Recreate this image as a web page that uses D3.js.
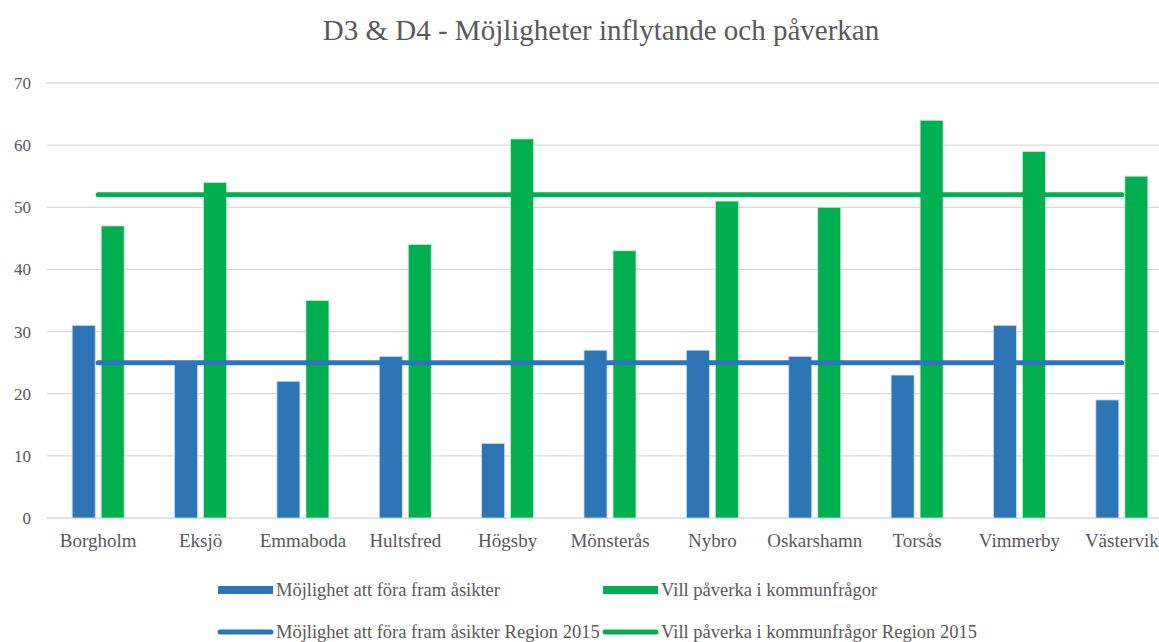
<!DOCTYPE html>
<html lang="sv">
<head>
<meta charset="UTF-8">
<title>D3 & D4</title>
<style>
  html, body { margin: 0; padding: 0; background: #fff; }
  svg { display: block; }
  text { font-family: "Liberation Serif", "DejaVu Serif", serif; fill: #595959; }
</style>
</head>
<body>
<div id="chart"></div>
<script src="https://d3js.org/d3.v7.min.js"></script>
<script>
// data
const kommuner = ['Borgholm', 'Eksjö', 'Emmaboda', 'Hultsfred', 'Högsby', 'Mönsterås', 'Nybro', 'Oskarshamn', 'Torsås', 'Vimmerby', 'Västervik'];
const asikter = [31, 25, 22, 26, 12, 27, 27, 26, 23, 31, 19];
const paverka = [47, 54, 35, 44, 61, 43, 51, 50, 64, 59, 55];
const asikterRegion = 25;
const paverkaRegion = 52;
const yTicks = [0, 10, 20, 30, 40, 50, 60, 70];
const seriesNames = ['Möjlighet att föra fram åsikter', 'Vill påverka i kommunfrågor',
  'Möjlighet att föra fram åsikter Region 2015', 'Vill påverka i kommunfrågor Region 2015'];

const W = 1159, H = 642;
const blue = '#2e75b6', green = '#00b050';

const svg = d3.select('#chart').append('svg')
  .attr('width', W).attr('height', H);

svg.append('text')
  .attr('x', 601).attr('y', 40)
  .attr('text-anchor', 'middle')
  .style('font-size', '29px')
  .text('D3 & D4 - Möjligheter inflytande och påverkan');

const x = d3.scaleBand().domain(kommuner).range([47, 1173]);
const y = d3.scaleLinear().domain([0, 70]).range([518, 83]);

// gridlines
svg.append('g').selectAll('line').data(yTicks).join('line')
  .attr('x1', 47).attr('x2', W)
  .attr('y1', d => y(d)).attr('y2', d => y(d))
  .attr('stroke', '#d9d9d9').attr('stroke-width', 1.3);

// y axis labels
svg.append('g').selectAll('text').data(yTicks).join('text')
  .attr('x', 31).attr('y', d => y(d) + 6)
  .attr('text-anchor', 'end')
  .style('font-size', '17px')
  .text(d => d);

// category labels
svg.append('g').selectAll('text').data(kommuner).join('text')
  .attr('x', d => x(d) + x.bandwidth() / 2)
  .attr('y', 547)
  .attr('text-anchor', 'middle')
  .style('font-size', '19px')
  .text(d => d);

const bw = 23, gap = 3;
// bars
svg.append('g').selectAll('rect').data(kommuner).join('rect')
  .attr('x', d => x(d) + x.bandwidth() / 2 - gap - bw)
  .attr('y', (d, i) => y(asikter[i]))
  .attr('width', bw)
  .attr('height', (d, i) => y(0) - y(asikter[i]))
  .attr('fill', blue).attr('stroke', '#c9dcef').attr('stroke-width', 0.8);

svg.append('g').selectAll('rect').data(kommuner).join('rect')
  .attr('x', d => x(d) + x.bandwidth() / 2 + gap)
  .attr('y', (d, i) => y(paverka[i]))
  .attr('width', bw)
  .attr('height', (d, i) => y(0) - y(paverka[i]))
  .attr('fill', green).attr('stroke', '#c3ecd5').attr('stroke-width', 0.8);

// region lines
const line = d3.line().x(d => x(d.k) + x.bandwidth() / 2).y(d => y(d.v));
[[asikterRegion, blue], [paverkaRegion, green]].forEach(([v, c]) => {
  svg.append('path')
    .attr('d', line(kommuner.map(k => ({ k, v }))))
    .attr('fill', 'none').attr('stroke', c)
    .attr('stroke-width', 5).attr('stroke-linecap', 'round');
});

// legend
const leg = svg.append('g').style('font-size', '18.5px');
const legPos = [[218, 590], [603, 590], [218, 632], [603, 632]];
const legColors = [blue, green, blue, green];
seriesNames.forEach((name, i) => {
  const [lx, ly] = legPos[i];
  if (i < 2) {
    leg.append('rect').attr('x', lx).attr('y', ly - 4).attr('width', 55).attr('height', 8)
      .attr('fill', legColors[i]);
  } else {
    leg.append('line').attr('x1', lx + 2).attr('x2', lx + 53).attr('y1', ly).attr('y2', ly)
      .attr('stroke', legColors[i]).attr('stroke-width', 5).attr('stroke-linecap', 'round');
  }
  leg.append('text').attr('x', lx + 58).attr('y', ly + 6).text(name);
});
</script>
</body>
</html>
